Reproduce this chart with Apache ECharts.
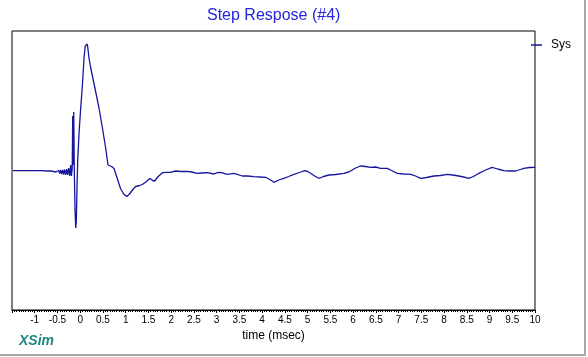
<!DOCTYPE html>
<html>
<head>
<meta charset="utf-8">
<script src="https://cdn.jsdelivr.net/npm/echarts@6/dist/echarts.min.js"></script>
<style>html,body{margin:0;padding:0;background:#fff;}#c{width:588px;height:357px;}</style>
</head>
<body>
<div id="c"></div>
<script>
var titleText = 'Step Respose (#4)';
var seriesName = 'Sys';
var xAxisName = 'time (msec)';
var time = [-1.48,-0.868,-0.714,-0.648,-0.582,-0.538,-0.516,-0.495,-0.473,-0.451,-0.429,-0.407,-0.385,-0.363,-0.341,-0.319,-0.297,-0.275,-0.253,-0.231,-0.209,-0.193,-0.176,-0.165,-0.154,-0.143,-0.130,-0.114,-0.099,-0.086,-0.070,-0.055,-0.022,0.011,0.048,0.084,0.110,0.121,0.154,0.165,0.193,0.231,0.286,0.341,0.413,0.488,0.560,0.611,0.637,0.692,0.743,0.818,0.890,0.956,1.022,1.073,1.110,1.176,1.220,1.308,1.367,1.440,1.534,1.593,1.637,1.703,1.807,1.901,1.989,2.099,2.209,2.356,2.451,2.576,2.670,2.796,2.941,3.015,3.088,3.235,3.380,3.565,3.681,3.820,3.945,4.077,4.187,4.259,4.363,4.479,4.582,4.699,4.824,4.934,5.000,5.066,5.154,5.248,5.352,5.468,5.615,5.798,5.901,5.982,6.055,6.165,6.275,6.385,6.495,6.604,6.752,6.846,6.971,7.110,7.264,7.374,7.484,7.615,7.776,7.923,8.070,8.187,8.325,8.429,8.545,8.648,8.765,8.912,9.059,9.176,9.314,9.440,9.571,9.681,9.754,9.879,10.0];
var resp = [0.003,0.003,0,0,-0.005,-0.01,0.01,-0.02,0.005,-0.025,0.01,-0.03,0.01,-0.035,0.015,-0.04,0.02,-0.04,0.03,-0.05,0.06,-0.05,0.03,0.55,0.06,0.59,0.01,-0.39,-0.57,-0.51,-0.14,0.11,0.41,0.63,0.86,1.13,1.25,1.26,1.27,1.24,1.13,1.03,0.91,0.79,0.63,0.43,0.23,0.06,0.04,0.045,0.025,-0.08,-0.18,-0.23,-0.255,-0.235,-0.22,-0.175,-0.155,-0.145,-0.135,-0.11,-0.075,-0.095,-0.10,-0.06,-0.017,-0.013,-0.013,0,-0.005,-0.003,-0.01,-0.023,-0.02,-0.017,-0.03,-0.017,-0.013,-0.033,-0.023,-0.05,-0.05,-0.057,-0.06,-0.063,-0.09,-0.113,-0.09,-0.073,-0.055,-0.033,-0.015,0.003,-0.005,-0.023,-0.05,-0.073,-0.055,-0.04,-0.035,-0.023,-0.01,0.01,0.03,0.05,0.045,0.037,0.04,0.027,0.027,0.005,-0.023,-0.03,-0.033,-0.05,-0.073,-0.065,-0.05,-0.045,-0.033,-0.04,-0.05,-0.06,-0.073,-0.055,-0.023,0.01,0.037,0.02,0.003,0,0,0.015,0.027,0.035,0.037];
var xMin = -1.5, xMax = 10, xStep = 0.5;
var yMin = -1.39, yMax = 1.40;

var chart = echarts.init(document.getElementById('c'), null, {renderer: 'canvas'});
var font = 'Liberation Sans, Arial, sans-serif';
chart.setOption({
  animation: false,
  backgroundColor: '#ffffff',
  textStyle: {fontFamily: font},
  grid: {left: 12, right: 53, top: 31, bottom: 47, show: true, borderColor: '#000', borderWidth: 1, backgroundColor: 'transparent'},
  legend: {
    data: [seriesName], left: 531, top: 39, padding: 0, itemWidth: 11, itemHeight: 1.5, icon: 'rect', itemGap: 0,
    textStyle: {fontSize: 12, color: '#000', fontFamily: font, padding: [0,0,0,4]}
  },
  xAxis: {
    type: 'value', min: xMin, max: xMax, interval: xStep,
    name: xAxisName, nameLocation: 'middle', nameGap: 20,
    nameTextStyle: {fontSize: 12, color: '#000', fontFamily: font},
    axisLine: {show: true, onZero: false, lineStyle: {color: '#000', width: 1}},
    axisTick: {show: true, inside: false, length: 3, lineStyle: {color: '#000'}},
    minorTick: {show: true, splitNumber: 10, length: 2, lineStyle: {color: '#000'}},
    axisLabel: {showMinLabel: false, fontSize: 10, color: '#000', margin: 5, fontFamily: font},
    splitLine: {show: false}, minorSplitLine: {show: false}
  },
  yAxis: {
    type: 'value', min: yMin, max: yMax,
    axisLine: {show: false}, axisTick: {show: false}, axisLabel: {show: false}, splitLine: {show: false}
  },
  series: [{
    name: seriesName, type: 'line', symbol: 'none', showSymbol: false,
    data: time.map(function (t, i) { return [t, resp[i]]; }),
    lineStyle: {color: '#16169e', width: 1.3},
    itemStyle: {color: '#16169e'}
  }],
  graphic: [
    {type: 'text', left: 273 - 66, top: 8, style: {text: titleText, fontSize: 16, fill: '#2424dc', font: '16px ' + font}},
    {type: 'text', left: 19, top: 334, style: {text: 'XSim', fill: '#1f8585', font: 'italic bold 14px ' + font}},
    {type: 'rect', shape: {x: 0, y: 354, width: 586, height: 2}, style: {fill: '#a8a8a8'}},
    {type: 'rect', shape: {x: 584, y: 0, width: 2, height: 356}, style: {fill: '#a8a8a8'}}
  ]
});
</script>
</body>
</html>
